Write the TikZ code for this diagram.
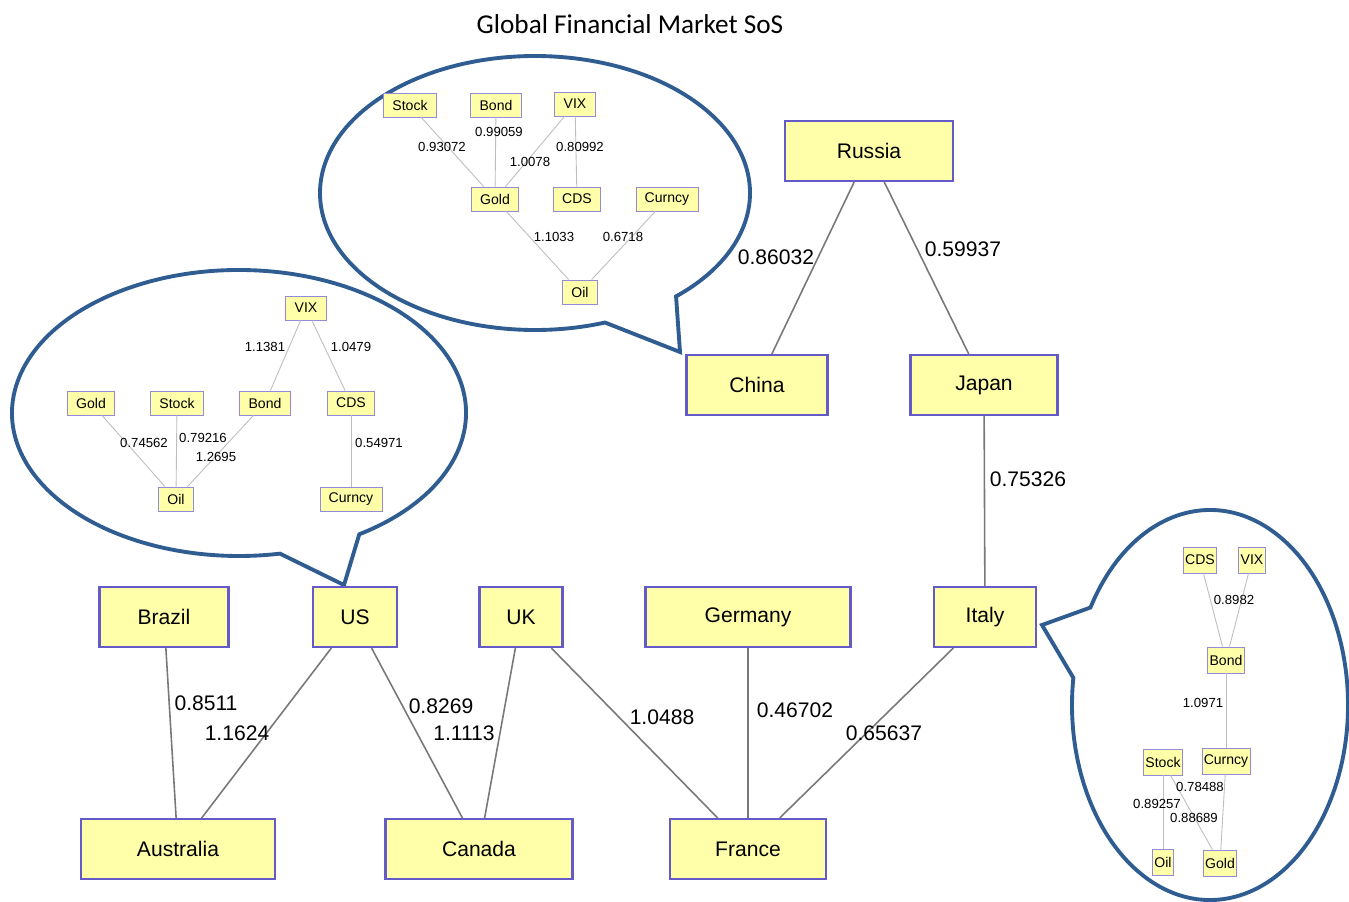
\documentclass[tikz,border=0pt]{standalone}
\usepackage{fontspec}
\setmainfont{Liberation Sans}
\newfontfamily\titlefont{Carlito}
\usetikzlibrary{calc}
\definecolor{boxfill}{RGB}{255,255,170}
\definecolor{boxline}{RGB}{100,90,200}
\definecolor{bubbleline}{RGB}{47,92,145}
\definecolor{linkgray}{RGB}{120,120,120}
\definecolor{subgray}{RGB}{190,190,190}

\begin{document}
\begin{tikzpicture}[
    x=0.02cm, y=-0.02cm,
    every node/.style={font=\fontsize{12}{14}\selectfont},
    country/.style={rectangle, draw=boxline, line width=1.2pt, fill=boxfill, minimum height=1.2cm, minimum width=#1},
    factor/.style={rectangle, draw=boxline!70, line width=0.5pt, fill=boxfill, minimum height=0.48cm, inner xsep=5pt, inner ysep=0pt, font=\fontsize{8}{9}\selectfont},
    tight/.style={factor, inner xsep=1pt, minimum height=0.52cm},
    link/.style={draw=linkgray, line width=0.9pt},
    sublink/.style={draw=subgray, line width=0.5pt},
    wlabel/.style={inner sep=0pt},
    swlabel/.style={inner sep=0pt, font=\fontsize{7.5}{9}\selectfont},
    bubble/.style={draw=bubbleline, line width=2.2pt, fill=white, line join=miter}
]
\useasboundingbox (0,0) rectangle (1349,902);

% Title
\node[font=\titlefont\fontsize{15.5}{18}\selectfont] (title) at (630,24) {Global Financial Market SoS};

% Speech bubbles
\coordinate (tipchina) at (680,352);
\coordinate (tipus) at (344,585);
\coordinate (tipitaly) at (1042,625);
\draw[bubble] (tipchina) -- ($(535,193)+(49:215 and 137)$) arc[start angle=49, end angle=-289, x radius=215, y radius=137] -- cycle;
\draw[bubble] (tipus) -- ($(239,413)+(58:227 and 143)$) arc[start angle=58, end angle=-280.4, x radius=227, y radius=143] -- cycle;
\draw[bubble] (tipitaly) -- ($(1210,705)+(-150:138 and 195)$) arc[start angle=-150, end angle=188, x radius=138, y radius=195] -- cycle;

% Countries
\node[country=3.36cm] (russia) at (869,151) {Russia};
\node[country=2.82cm] (china) at (757,385) {China};
\node[country=2.94cm] (japan) at (984,385) {Japan};
\node[country=2.58cm] (brazil) at (164,617) {Brazil};
\node[country=1.68cm] (us) at (355,617) {US};
\node[country=1.66cm] (uk) at (521,617) {UK};
\node[country=4.1cm] (germany) at (748,617) {Germany};
\node[country=2.04cm] (italy) at (985,617) {Italy};
\node[country=3.88cm] (australia) at (178,849) {Australia};
\node[country=3.74cm] (canada) at (479,849) {Canada};
\node[country=3.12cm] (france) at (748,849) {France};

% Country links
\draw[link] (russia) -- (china);
\draw[link] (russia) -- (japan);
\draw[link] (japan) -- (italy);
\draw[link] (brazil) -- (australia);
\draw[link] (us) -- (australia);
\draw[link] (us) -- (canada);
\draw[link] (uk) -- (canada);
\draw[link] (uk) -- (france);
\draw[link] (germany) -- (france);
\draw[link] (italy) -- (france);

\node[wlabel] (wruch) at (776,257) {0.86032};
\node[wlabel] (wruja) at (963,249) {0.59937};
\node[wlabel] (wjait) at (1028,479) {0.75326};
\node[wlabel] (wbrau) at (206,703) {0.8511};
\node[wlabel] (wusau) at (237,733) {1.1624};
\node[wlabel] (wusca) at (441,706) {0.8269};
\node[wlabel] (wukca) at (464,733) {1.1113};
\node[wlabel] (wukfr) at (662,717) {1.0488};
\node[wlabel] (wdefr) at (795,710) {0.46702};
\node[wlabel] (witfr) at (884,733) {0.65637};

% China bubble
\node[factor] (cstock) at (410,105) {Stock};
\node[factor] (cbond) at (496,105) {Bond};
\node[factor] (cvix) at (575,104) {VIX};
\node[factor] (cgold) at (495,199) {Gold};
\node[factor] (ccds) at (577,199) {CDS};
\node[factor] (ccurncy) at (667,199) {Curncy};
\node[factor] (coil) at (580,292) {Oil};
\draw[sublink] (cstock) -- (cgold);
\draw[sublink] (cbond) -- (cgold);
\draw[sublink] (cvix) -- (cgold);
\draw[sublink] (cvix) -- (ccds);
\draw[sublink] (cgold) -- (coil);
\draw[sublink] (ccurncy) -- (coil);
\node[swlabel] (wc1) at (442,147) {0.93072};
\node[swlabel] (wc2) at (499,132) {0.99059};
\node[swlabel] (wc3) at (530,162) {1.0078};
\node[swlabel] (wc4) at (580,147) {0.80992};
\node[swlabel] (wc5) at (554,237) {1.1033};
\node[swlabel] (wc6) at (623,237) {0.6718};

% US bubble
\node[factor] (uvix) at (306,308) {VIX};
\node[factor] (ugold) at (91,403) {Gold};
\node[factor] (ustock) at (177,403) {Stock};
\node[factor] (ubond) at (265,403) {Bond};
\node[factor] (ucds) at (351,403) {CDS};
\node[factor] (uoil) at (176,499) {Oil};
\node[factor] (ucurncy) at (351,499) {Curncy};
\draw[sublink] (uvix) -- (ubond);
\draw[sublink] (uvix) -- (ucds);
\draw[sublink] (ugold) -- (uoil);
\draw[sublink] (ustock) -- (uoil);
\draw[sublink] (ubond) -- (uoil);
\draw[sublink] (ucds) -- (ucurncy);
\node[swlabel] (wu1) at (265,347) {1.1381};
\node[swlabel] (wu2) at (351,347) {1.0479};
\node[swlabel] (wu3) at (144,443) {0.74562};
\node[swlabel] (wu4) at (203,438) {0.79216};
\node[swlabel] (wu5) at (216,457) {1.2695};
\node[swlabel] (wu6) at (379,443) {0.54971};

% Italy bubble
\node[tight] (icds) at (1200,560) {CDS};
\node[tight] (ivix) at (1252,560) {VIX};
\node[tight] (ibond) at (1226,660) {Bond};
\node[tight] (istock) at (1163,762) {Stock};
\node[tight] (icurncy) at (1226,761) {Curncy};
\node[tight] (ioil) at (1163,862) {Oil};
\node[tight] (igold) at (1220,863) {Gold};
\draw[sublink] (icds) -- (ibond);
\draw[sublink] (ivix) -- (ibond);
\draw[sublink] (ibond) -- (icurncy);
\draw[sublink] (istock) -- (ioil);
\draw[sublink] (istock) -- (igold);
\draw[sublink] (icurncy) -- (igold);
\node[swlabel] (wi1) at (1234,600) {0.8982};
\node[swlabel] (wi2) at (1203,703) {1.0971};
\node[swlabel] (wi3) at (1200,787) {0.78488};
\node[swlabel] (wi4) at (1157,804) {0.89257};
\node[swlabel] (wi5) at (1194,818) {0.88689};

\end{tikzpicture}
\end{document}
